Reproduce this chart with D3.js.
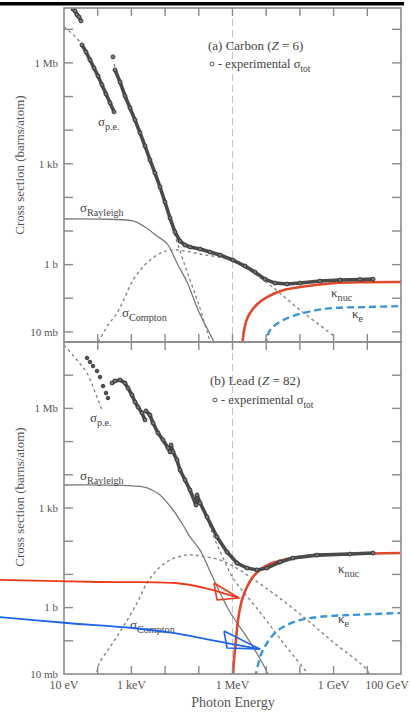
<!DOCTYPE html>
<html><head><meta charset="utf-8">
<script src="https://cdn.jsdelivr.net/npm/d3@7"></script>
<style>body{margin:0;background:#fff}svg{display:block}</style>
</head><body>
<script>
// ---------- DATA (energy in MeV, cross section in barns) ----------
const xTickValues = [1e-5, 1e-3, 1, 1e3, 1e5];
const xTickLabels = ["10 eV", "1 keV", "1 MeV", "1 GeV", "100 GeV"];
const yTickValues = [1e-2, 1, 1e3, 1e6];
const yTickLabels = ["10 mb", "1 b", "1 kb", "1 Mb"];

// Carbon experimental sigma_tot
const carbonExpA = [[1.85e-5,4.0e7],[2.12e-5,3.5e7],[2.43e-5,2.69e7],[2.79e-5,2.34e7],[3.19e-5,1.78e7]];
const carbonExpB = [[3.42e-5,3.43e6],[4.50e-5,2.12e6],[5.91e-5,1.23e6],[7.76e-5,7.1e5],[1.02e-4,4.1e5],[1.34e-4,2.21e5],[1.76e-4,1.19e5],[2.32e-4,6.5e4],[3.05e-4,3.5e4]];
const carbonExpC = [[2.84e-4,1.51e6]];
const carbonExpD = [[3.26e-4,6.2e5],[4.59e-4,2.72e5],[6.46e-4,1.04e5],[9.1e-4,4.58e4],[1.28e-3,2.01e4],[1.80e-3,8.3e3],[2.53e-3,3.39e3],[3.56e-3,1.30e3],[5.0e-3,532],[7.06e-3,204],[9.9e-3,73],[1.40e-2,24.4],[1.97e-2,9.3],[2.77e-2,5.0],[3.90e-2,3.83],[5.48e-2,3.34],[0.109,2.91],[0.215,2.37],[0.426,1.93],[1.03,1.37],[2.35,0.91],[4.65,0.60],[9.2,0.37],[18.2,0.283],[41,0.265],[101,0.283],[395,0.325],[1550,0.348],[6070,0.36],[1.48e4,0.37]];
// Carbon theory curves
const carbonPE1 = [[1e-5,1.18e7],[2.98e-5,4.2e6],[1.02e-4,4.1e5],[2.84e-4,4.2e4]];
const carbonPE2 = [[3.05e-4,9.3e5],[1.80e-3,8.3e3],[7.06e-3,190],[1.40e-2,21.2],[2.97e-2,2.07],[5.48e-2,0.348],[0.101,0.063],[0.215,5.25e-3],[0.247,3.3e-3]];
const carbonRayleigh = [[1e-5,22.8],[1e-4,22.6],[1.11e-3,19.9],[2.53e-3,13.2],[5.75e-3,7.1],[1.14e-2,4.2],[2.25e-2,1.12],[4.47e-2,0.303],[0.101,0.0388],[0.215,8.6e-3],[0.324,3.8e-3]];
const carbonCompton = [[1.05e-4,5.0e-3],[2.02e-4,0.0159],[3.74e-4,0.0363],[6.46e-4,0.109],[1.11e-3,0.348],[2.06e-3,0.793],[3.56e-3,1.37],[8.67e-3,2.37],[2.25e-2,2.72],[0.109,2.07],[1.03,1.28],[9.9,0.303],[101,0.0446],[960,8.0e-3]];
const carbonNuc = [[1.95,4e-3],[2.2,0.011],[2.6,0.022],[3.3,0.036],[5.7,0.07],[10.6,0.108],[31.5,0.172],[101,0.215],[960,0.28],[9.8e3,0.30],[1e5,0.303]];
const carbonKe = [[9.2,3.8e-3],[10.6,6.5e-3],[13.0,0.0113],[31.5,0.0224],[162,0.0388],[960,0.051],[9.8e3,0.0547],[1e5,0.0586]];

// Lead experimental sigma_tot
const leadExpA = [[4.81e-5,3.3e7],[5.91e-5,2.5e7],[7.26e-5,1.89e7],[9.53e-5,1.34e7],[1.17e-4,8.8e6],[1.44e-4,4.7e6],[1.76e-4,2.91e6],[2.02e-4,2.06e6]];
const leadExpB = [[2.66e-4,5.8e6],[3.26e-4,6.7e6],[4.59e-4,7.2e6],[6.46e-4,5.8e6],[7.93e-4,4.1e6],[1.04e-3,2.53e6],[1.28e-3,1.56e6],[1.57e-3,1.10e6],[2.06e-3,7.3e5],[2.53e-3,4.5e5]];
const leadExpC = [[2.71e-3,8.4e5],[3.56e-3,6.3e5],[4.38e-3,3.63e5],[6.15e-3,1.82e5],[8.67e-3,1.12e5],[1.22e-2,6.4e4],[1.40e-2,4.9e4],[1.50e-2,7.9e4],[1.72e-2,4.9e4],[2.25e-2,2.79e4],[2.77e-2,1.40e4],[3.90e-2,7.0e3],[5.48e-2,3.49e3],[8.26e-2,1.23e3],[8.85e-2,2.47e3],[0.109,1.42e3],[0.175,536],[0.347,134],[0.687,47],[1.36,22],[2.69,15.6],[5.33,13.6],[10.6,15.6],[25.7,23.6],[62,31],[321,38],[3070,41],[1.48e4,44]];
// Lead theory curves
const leadPE1 = [[1e-5,8.1e7],[2.43e-5,2.87e7],[4.81e-5,1.16e7],[9.5e-5,2.2e6],[1.34e-4,8.95e5]];
const leadPE2 = [[8.85e-2,2.2e3],[0.175,467],[0.303,109],[0.599,23.6],[1.03,7.8],[6.5,0.735],[36,0.075],[174,0.01],[229,6.6e-3]];
const leadRayleigh = [[1e-5,4.93e3],[2.21e-3,4.3e3],[4.08e-3,3.49e3],[7.06e-3,2.47e3],[1.72e-2,871],[3.40e-2,308],[5.48e-2,134],[0.109,54],[0.264,7.8],[0.843,0.735],[3.31,0.092],[11.3,0.01],[14.9,5e-3]];
const leadCompton = [[8.9e-5,7.6e-3],[1.1e-4,0.02],[2.32e-4,0.065],[5.64e-4,0.26],[1.47e-3,1.38],[2.90e-3,5.5],[5.75e-3,13.6],[1.40e-2,27.2],[4.47e-2,38.4],[0.109,35.8],[0.426,27.2],[1.03,17.9],[9.9,3.89],[101,0.64],[960,0.092],[9.8e3,0.0132],[1.2e4,7.6e-3]];
const leadNuc = [[1.03,7.6e-3],[1.108,0.0264],[1.27,0.106],[1.46,0.42],[1.91,1.70],[2.69,4.17],[4.06,8.4],[6.5,13.6],[13.0,20.6],[31.5,27.2],[101,33.4],[321,38.4],[3070,41],[9.3e4,44.2]];
const leadKe = [[4.65,7.6e-3],[5.7,0.0187],[7.5,0.046],[10.6,0.086],[18.2,0.172],[31.5,0.26],[82,0.394],[200,0.486],[782,0.558],[3070,0.598],[9.3e4,0.687]];

// Hand-drawn annotation arrows on the lead panel (data units)
const redArrowLine = [[1.26e-7,6.8],[1.17e-4,5.9],[0.0197,5.5],[0.153,3.89],[1.56,1.95]];
const redArrowHead = [[0.283,5.5],[1.56,1.95],[0.347,1.70],[0.283,5.5]];
const blueArrowLine = [[1.26e-7,0.52],[1.23e-5,0.344],[1.11e-3,0.243],[0.0172,0.172],[0.215,0.106],[6.5,0.0566]];
const blueArrowHead = [[0.56,0.197],[6.5,0.0566],[0.687,0.0607],[0.56,0.197]];

// ---------- DRAWING ----------
const W = 410, H = 717;
const serif = "'Liberation Serif','DejaVu Serif',serif";
const svg = d3.select("body").append("svg").attr("width", W).attr("height", H)
  .style("font-family", serif);

const x = d3.scaleLog().domain([1e-5, 1e5]).range([64, 401]);

const panels = [
  { id: "c", y: d3.scaleLog().domain([5e-3, 4.3e7]).range([342, 8]),
    exp: [carbonExpA, carbonExpB, carbonExpC, carbonExpD], dotted: [],
    pe: [carbonPE1, carbonPE2], ray: carbonRayleigh, comp: carbonCompton, nuc: carbonNuc, ke: carbonKe },
  { id: "p", y: d3.scaleLog().domain([1e-2, 1e8]).range([674, 342]),
    exp: [leadExpB, leadExpC], dotted: [leadExpA],
    pe: [leadPE1, leadPE2], ray: leadRayleigh, comp: leadCompton, nuc: leadNuc, ke: leadKe }
];

// top black bar
svg.append("rect").attr("x", 0).attr("y", 2).attr("width", 404).attr("height", 3.5).attr("fill", "#000");

const axisColor = "#8a8a8a";
const defs = svg.append("defs");

panels.forEach(p => {
  const [yb, yt] = p.y.range();
  const [xl, xr] = x.range();
  defs.append("clipPath").attr("id", "clip-" + p.id)
    .append("rect").attr("x", xl).attr("y", yt).attr("width", xr - xl).attr("height", yb - yt);
  const g = svg.append("g");
  const pg = g.append("g").attr("clip-path", `url(#clip-${p.id})`);

  // 1 MeV dashed guide
  pg.append("line").attr("x1", x(1)).attr("x2", x(1)).attr("y1", yt).attr("y2", yb)
    .attr("stroke", "#c4c4c4").attr("stroke-width", 1).attr("stroke-dasharray", "7,4");

  const line = d3.line().x(d => x(d[0])).y(d => p.y(d[1]));
  const smooth = d3.line().x(d => x(d[0])).y(d => p.y(d[1])).curve(d3.curveCatmullRom.alpha(0.5));

  pg.append("path").attr("d", smooth(p.ray)).attr("fill", "none").attr("stroke", "#7a7a7a").attr("stroke-width", 1.3);
  pg.append("path").attr("d", smooth(p.comp)).attr("fill", "none").attr("stroke", "#8c8c8c").attr("stroke-width", 1.5).attr("stroke-dasharray", "3,3");
  p.pe.forEach(s => pg.append("path").attr("d", smooth(s)).attr("fill", "none").attr("stroke", "#7a7a7a").attr("stroke-width", 1.2).attr("stroke-dasharray", "3,3"));
  pg.append("path").attr("d", smooth(p.ke)).attr("fill", "none").attr("stroke", "#3a96d4").attr("stroke-width", 2.4).attr("stroke-dasharray", "7,4");
  pg.append("path").attr("d", smooth(p.nuc)).attr("fill", "none").attr("stroke", "#e0492c").attr("stroke-width", 2.6);

  // experimental points
  p.exp.forEach(s => {
    if (s.length > 1)
      pg.append("path").attr("d", line(s)).attr("fill", "none").attr("stroke", "#4a4a4a").attr("stroke-width", 3.6).attr("stroke-linejoin", "round");
    pg.selectAll(null).data(s).join("circle")
      .attr("cx", d => x(d[0])).attr("cy", d => p.y(d[1])).attr("r", 2)
      .attr("fill", "#777").attr("stroke", "#333").attr("stroke-width", 0.9);
  });
  p.dotted.forEach(s => {
    pg.selectAll(null).data(s).join("circle")
      .attr("cx", d => x(d[0])).attr("cy", d => p.y(d[1])).attr("r", 1.8)
      .attr("fill", "#555").attr("stroke", "#333").attr("stroke-width", 0.9);
  });

  // frame
  g.append("rect").attr("x", xl).attr("y", yt).attr("width", xr - xl).attr("height", yb - yt)
    .attr("fill", "none").attr("stroke", axisColor).attr("stroke-width", 1.6);

  // y ticks every decade, inward on both sides
  const ydom = p.y.domain();
  const decs = d3.range(Math.ceil(Math.log10(ydom[0])), Math.floor(Math.log10(ydom[1])) + 1).map(k => Math.pow(10, k));
  decs.forEach(v => {
    const yy = p.y(v);
    if (yy <= yt + 0.5 || yy >= yb - 0.5) return;
    g.append("line").attr("x1", xl).attr("x2", xl + 9).attr("y1", yy).attr("y2", yy).attr("stroke", axisColor).attr("stroke-width", 1.4);
    g.append("line").attr("x1", xr).attr("x2", xr - 9).attr("y1", yy).attr("y2", yy).attr("stroke", axisColor).attr("stroke-width", 1.4);
  });
  // x ticks every decade, inward top & bottom
  d3.range(-5, 6).map(k => Math.pow(10, k)).forEach(v => {
    const xx = x(v);
    if (xx <= xl + 0.5 || xx >= xr - 0.5) return;
    g.append("line").attr("x1", xx).attr("x2", xx).attr("y1", yt).attr("y2", yt + 8).attr("stroke", axisColor).attr("stroke-width", 1.4);
    g.append("line").attr("x1", xx).attr("x2", xx).attr("y1", yb).attr("y2", yb - 8).attr("stroke", axisColor).attr("stroke-width", 1.4);
  });
  // y tick labels
  yTickValues.forEach((v, i) => {
    const yy = p.y(v);
    g.append("text").attr("x", xl - 6).attr("y", yy).attr("dy", "0.35em").attr("text-anchor", "end")
      .attr("font-size", 11).attr("fill", "#555").text(yTickLabels[i]);
  });
  // y title
  const cy = p.id === "c" ? 165 : 497;
  g.append("text").attr("transform", `translate(24,${cy}) rotate(-90)`).attr("text-anchor", "middle")
    .attr("font-size", 13).attr("fill", "#555").text("Cross section  (barns/atom)");
});

// x tick labels + title (bottom panel); keep the last label inside the page
xTickValues.forEach((v, i) => {
  const t = svg.append("text").attr("x", x(v)).attr("y", 689).attr("text-anchor", "middle")
    .attr("font-size", 12).attr("fill", "#555").text(xTickLabels[i]);
  const w = t.node().getComputedTextLength();
  if (x(v) + w / 2 > W - 1) t.attr("x", W - 1 - w / 2);
});
svg.append("text").attr("x", 233).attr("y", 707).attr("text-anchor", "middle")
  .attr("font-size", 14).attr("fill", "#555").text("Photon Energy");

// curve labels
function sub(xp, yp, main, subTxt, size) {
  const t = svg.append("text").attr("x", xp).attr("y", yp).attr("fill", "#444").attr("font-size", size || 13);
  t.append("tspan").text(main);
  t.append("tspan").attr("dy", 4).attr("font-size", (size || 13) * 0.78).text(subTxt);
  return t;
}
sub(98, 126, "σ", "p.e.");
sub(80, 212, "σ", "Rayleigh");
sub(122, 317, "σ", "Compton");
sub(331, 297, "κ", "nuc");
sub(352, 318, "κ", "e");
sub(90, 422, "σ", "p.e.");
sub(80, 480, "σ", "Rayleigh");
sub(130, 629, "σ", "Compton");
sub(338, 573, "κ", "nuc");
sub(338, 623, "κ", "e");

function title(xp, yp, pre, z) {
  const t = svg.append("text").attr("x", xp).attr("y", yp).attr("fill", "#444").attr("font-size", 13);
  t.append("tspan").text(pre + " (");
  t.append("tspan").attr("font-style", "italic").text("Z");
  t.append("tspan").text(" = " + z + ")");
}
title(208, 50, "(a) Carbon", "6");
title(210, 385, "(b) Lead", "82");
function legend(cx, cy) {
  svg.append("circle").attr("cx", cx).attr("cy", cy).attr("r", 2).attr("fill", "none").attr("stroke", "#555").attr("stroke-width", 1);
  const t = svg.append("text").attr("x", cx + 6).attr("y", cy + 4).attr("fill", "#444").attr("font-size", 12.5);
  t.append("tspan").text("- experimental σ");
  t.append("tspan").attr("dy", 4).attr("font-size", 9.5).text("tot");
}
legend(212, 64);
legend(215, 400);

// hand-drawn arrows (lead panel coordinates)
const yLead = panels[1].y;
const aLine = d3.line().x(d => x(d[0])).y(d => yLead(d[1])).curve(d3.curveCatmullRom.alpha(0.5));
const aPoly = d3.line().x(d => x(d[0])).y(d => yLead(d[1]));
svg.append("path").attr("d", aLine(redArrowLine)).attr("fill", "none").attr("stroke", "#ec3a1c").attr("stroke-width", 1.8);
svg.append("path").attr("d", aPoly(redArrowHead)).attr("fill", "none").attr("stroke", "#ec3a1c").attr("stroke-width", 1.6).attr("stroke-linejoin", "round");
svg.append("path").attr("d", aLine(blueArrowLine)).attr("fill", "none").attr("stroke", "#1f63e6").attr("stroke-width", 1.8);
svg.append("path").attr("d", aPoly(blueArrowHead)).attr("fill", "none").attr("stroke", "#1f63e6").attr("stroke-width", 1.6).attr("stroke-linejoin", "round");
</script>
</body></html>
